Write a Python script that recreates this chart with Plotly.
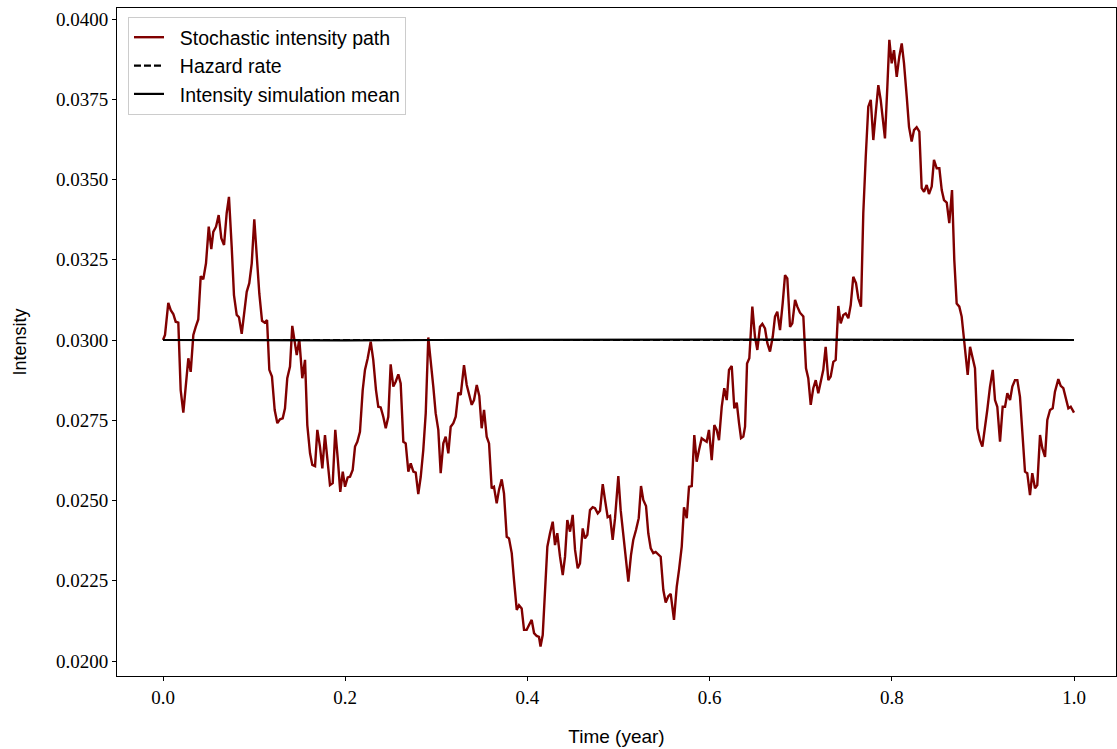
import plotly.graph_objects as go

# Simulated intensity path (time in years, intensity level)
time = [
    0.0000, 0.0022, 0.0058, 0.0085, 0.0113, 0.0139, 0.0168, 0.0194, 0.0223, 0.0252,
    0.0278, 0.0304, 0.0333, 0.0359, 0.0387, 0.0414, 0.0442, 0.0472, 0.0502, 0.0530,
    0.0552, 0.0582, 0.0611, 0.0640, 0.0670, 0.0699, 0.0724, 0.0754, 0.0779, 0.0809,
    0.0834, 0.0864, 0.0889, 0.0919, 0.0947, 0.0974, 0.1002, 0.1029, 0.1057, 0.1087,
    0.1116, 0.1142, 0.1167, 0.1196, 0.1226, 0.1255, 0.1284, 0.1314, 0.1339, 0.1364,
    0.1394, 0.1419, 0.1449, 0.1468, 0.1496, 0.1529, 0.1559, 0.1584, 0.1614, 0.1639,
    0.1669, 0.1694, 0.1723, 0.1749, 0.1778, 0.1804, 0.1833, 0.1863, 0.1891, 0.1918,
    0.1946, 0.1973, 0.1998, 0.2027, 0.2053, 0.2082, 0.2108, 0.2133, 0.2162, 0.2192,
    0.2217, 0.2247, 0.2280, 0.2308, 0.2338, 0.2363, 0.2390, 0.2418, 0.2445, 0.2473,
    0.2499, 0.2528, 0.2554, 0.2583, 0.2609, 0.2638, 0.2664, 0.2693, 0.2719, 0.2748,
    0.2774, 0.2802, 0.2829, 0.2857, 0.2884, 0.2912, 0.2939, 0.2967, 0.2993, 0.3022,
    0.3048, 0.3077, 0.3103, 0.3132, 0.3158, 0.3187, 0.3213, 0.3242, 0.3268, 0.3304,
    0.3334, 0.3359, 0.3389, 0.3414, 0.3444, 0.3472, 0.3498, 0.3524, 0.3553, 0.3579,
    0.3608, 0.3633, 0.3663, 0.3688, 0.3718, 0.3743, 0.3773, 0.3798, 0.3828, 0.3853,
    0.3883, 0.3908, 0.3937, 0.3963, 0.3992, 0.4018, 0.4047, 0.4073, 0.4102, 0.4127,
    0.4144, 0.4168, 0.4193, 0.4219, 0.4248, 0.4278, 0.4303, 0.4328, 0.4358, 0.4388,
    0.4413, 0.4438, 0.4468, 0.4497, 0.4523, 0.4552, 0.4577, 0.4607, 0.4632, 0.4658,
    0.4687, 0.4717, 0.4742, 0.4772, 0.4797, 0.4827, 0.4852, 0.4881, 0.4907, 0.4936,
    0.4962, 0.4998, 0.5024, 0.5053, 0.5082, 0.5108, 0.5137, 0.5162, 0.5192, 0.5222,
    0.5247, 0.5272, 0.5302, 0.5327, 0.5354, 0.5382, 0.5408, 0.5437, 0.5463, 0.5492,
    0.5518, 0.5547, 0.5573, 0.5609, 0.5639, 0.5664, 0.5694, 0.5719, 0.5749, 0.5774,
    0.5804, 0.5832, 0.5858, 0.5884, 0.5913, 0.5942, 0.5968, 0.5993, 0.6023, 0.6052,
    0.6078, 0.6103, 0.6133, 0.6161, 0.6188, 0.6213, 0.6243, 0.6271, 0.6298, 0.6323,
    0.6345, 0.6370, 0.6389, 0.6411, 0.6436, 0.6469, 0.6498, 0.6524, 0.6553, 0.6579,
    0.6608, 0.6634, 0.6663, 0.6693, 0.6718, 0.6743, 0.6773, 0.6802, 0.6828, 0.6853,
    0.6883, 0.6908, 0.6938, 0.6963, 0.6992, 0.7029, 0.7058, 0.7083, 0.7110, 0.7138,
    0.7165, 0.7193, 0.7220, 0.7248, 0.7274, 0.7303, 0.7329, 0.7358, 0.7384, 0.7413,
    0.7439, 0.7468, 0.7494, 0.7523, 0.7549, 0.7577, 0.7607, 0.7632, 0.7662, 0.7687,
    0.7714, 0.7742, 0.7769, 0.7797, 0.7823, 0.7852, 0.7878, 0.7900, 0.7925, 0.7951,
    0.7973, 0.7999, 0.8024, 0.8054, 0.8082, 0.8109, 0.8134, 0.8164, 0.8189, 0.8218,
    0.8244, 0.8273, 0.8302, 0.8328, 0.8354, 0.8383, 0.8408, 0.8438, 0.8463, 0.8493,
    0.8522, 0.8548, 0.8573, 0.8603, 0.8631, 0.8661, 0.8686, 0.8712, 0.8741, 0.8767,
    0.8793, 0.8814, 0.8833, 0.8859, 0.8884, 0.8913, 0.8939, 0.8968, 0.8994, 0.9023,
    0.9048, 0.9078, 0.9108, 0.9133, 0.9158, 0.9188, 0.9217, 0.9243, 0.9268, 0.9298,
    0.9323, 0.9352, 0.9378, 0.9407, 0.9433, 0.9462, 0.9487, 0.9517, 0.9542, 0.9572,
    0.9597, 0.9627, 0.9652, 0.9682, 0.9707, 0.9737, 0.9766, 0.9791, 0.9828, 0.9854,
    0.9883, 0.9909, 0.9938, 0.9964, 1.0000,
]

intensity_path = [
    0.03000, 0.03016, 0.03116, 0.03093, 0.03081, 0.03057, 0.03054, 0.02844, 0.02774, 0.02855,
    0.02943, 0.02901, 0.03016, 0.03041, 0.03064, 0.03199, 0.03189, 0.03239, 0.03353, 0.03283,
    0.03337, 0.03353, 0.03389, 0.03317, 0.03296, 0.03395, 0.03446, 0.03291, 0.03140, 0.03078,
    0.03071, 0.03019, 0.03073, 0.03150, 0.03177, 0.03239, 0.03376, 0.03249, 0.03145, 0.03060,
    0.03054, 0.03062, 0.02907, 0.02886, 0.02782, 0.02741, 0.02753, 0.02756, 0.02787, 0.02881,
    0.02917, 0.03044, 0.02990, 0.02953, 0.03002, 0.02881, 0.02938, 0.02735, 0.02647, 0.02611,
    0.02607, 0.02720, 0.02668, 0.02600, 0.02704, 0.02626, 0.02548, 0.02554, 0.02720, 0.02631,
    0.02527, 0.02590, 0.02543, 0.02572, 0.02574, 0.02595, 0.02668, 0.02683, 0.02714, 0.02844,
    0.02907, 0.02943, 0.02995, 0.02938, 0.02844, 0.02792, 0.02790, 0.02761, 0.02725, 0.02761,
    0.02924, 0.02855, 0.02870, 0.02893, 0.02865, 0.02683, 0.02678, 0.02590, 0.02616, 0.02590,
    0.02587, 0.02520, 0.02574, 0.02657, 0.02772, 0.03008, 0.02938, 0.02855, 0.02772, 0.02720,
    0.02585, 0.02678, 0.02699, 0.02647, 0.02730, 0.02741, 0.02761, 0.02836, 0.02829, 0.02922,
    0.02860, 0.02834, 0.02798, 0.02813, 0.02860, 0.02826, 0.02725, 0.02782, 0.02699, 0.02678,
    0.02538, 0.02543, 0.02491, 0.02533, 0.02566, 0.02522, 0.02387, 0.02382, 0.02336, 0.02252,
    0.02159, 0.02174, 0.02164, 0.02097, 0.02097, 0.02112, 0.02128, 0.02087, 0.02078, 0.02075,
    0.02045, 0.02081, 0.02231, 0.02356, 0.02398, 0.02434, 0.02361, 0.02398, 0.02325, 0.02268,
    0.02325, 0.02439, 0.02403, 0.02455, 0.02346, 0.02289, 0.02304, 0.02413, 0.02382, 0.02393,
    0.02470, 0.02479, 0.02476, 0.02460, 0.02468, 0.02551, 0.02502, 0.02448, 0.02452, 0.02377,
    0.02445, 0.02576, 0.02470, 0.02387, 0.02315, 0.02247, 0.02330, 0.02377, 0.02408, 0.02445,
    0.02545, 0.02502, 0.02483, 0.02398, 0.02351, 0.02336, 0.02340, 0.02333, 0.02325, 0.02221,
    0.02182, 0.02202, 0.02209, 0.02128, 0.02231, 0.02283, 0.02356, 0.02479, 0.02445, 0.02543,
    0.02545, 0.02704, 0.02621, 0.02657, 0.02694, 0.02688, 0.02683, 0.02720, 0.02626, 0.02735,
    0.02720, 0.02688, 0.02792, 0.02850, 0.02813, 0.02907, 0.02919, 0.02787, 0.02805, 0.02741,
    0.02694, 0.02699, 0.02730, 0.02927, 0.02943, 0.03104, 0.03010, 0.02969, 0.03041, 0.03050,
    0.03036, 0.02990, 0.02964, 0.03010, 0.03073, 0.03088, 0.03031, 0.03114, 0.03202, 0.03192,
    0.03041, 0.03052, 0.03125, 0.03104, 0.03085, 0.03073, 0.02912, 0.02881, 0.02798, 0.02850,
    0.02875, 0.02834, 0.02875, 0.02907, 0.02979, 0.02875, 0.02886, 0.02932, 0.02938, 0.03106,
    0.03052, 0.03078, 0.03083, 0.03068, 0.03109, 0.03197, 0.03177, 0.03130, 0.03104, 0.03395,
    0.03571, 0.03727, 0.03748, 0.03623, 0.03706, 0.03794, 0.03748, 0.03685, 0.03628, 0.03789,
    0.03935, 0.03862, 0.03903, 0.03820, 0.03883, 0.03924, 0.03862, 0.03758, 0.03664, 0.03618,
    0.03654, 0.03663, 0.03649, 0.03473, 0.03462, 0.03483, 0.03455, 0.03478, 0.03561, 0.03535,
    0.03535, 0.03467, 0.03436, 0.03428, 0.03364, 0.03467, 0.03249, 0.03114, 0.03104, 0.03073,
    0.03000, 0.02959, 0.02891, 0.02979, 0.02948, 0.02912, 0.02725, 0.02688, 0.02668, 0.02725,
    0.02782, 0.02855, 0.02907, 0.02813, 0.02792, 0.02683, 0.02792, 0.02792, 0.02834, 0.02813,
    0.02855, 0.02875, 0.02875, 0.02823, 0.02699, 0.02590, 0.02585, 0.02517, 0.02585, 0.02538,
    0.02548, 0.02704, 0.02663, 0.02636, 0.02751, 0.02782, 0.02787, 0.02839, 0.02878, 0.02857,
    0.02850, 0.02823, 0.02787, 0.02792, 0.02774,
]

# Constant hazard rate over the horizon
hazard_time = [0.0, 1.0]
hazard_rate = [0.03, 0.03]

# Mean of the simulated intensity paths
mean_time = [0.0, 0.1, 0.2, 0.3, 0.4, 0.5, 0.6, 0.7, 0.8, 0.9, 1.0]
intensity_mean = [0.03000, 0.02999, 0.02999, 0.03000, 0.03001, 0.03002,
                  0.03001, 0.03001, 0.03001, 0.03001, 0.03000]

x_ticks = [0.0, 0.2, 0.4, 0.6, 0.8, 1.0]
y_ticks = [0.0200, 0.0225, 0.0250, 0.0275, 0.0300, 0.0325, 0.0350, 0.0375, 0.0400]

SANS = "Liberation Sans, Arial, sans-serif"
SERIF = "Liberation Serif, Times New Roman, serif"
PAD = "\u00a0\u00a0"  # gap between legend sample line and label

fig = go.Figure()
fig.add_trace(go.Scatter(
    x=time, y=intensity_path, mode="lines", name=PAD + "Stochastic intensity path",
    line=dict(color="#800000", width=2.4),
))
fig.add_trace(go.Scatter(
    x=hazard_time, y=hazard_rate, mode="lines", name=PAD + "Hazard rate",
    line=dict(color="black", width=2.2, dash="7px,3px"),
))
fig.add_trace(go.Scatter(
    x=mean_time, y=intensity_mean, mode="lines", name=PAD + "Intensity simulation mean",
    line=dict(color="black", width=2.2),
))

axis_common = dict(
    showline=True, mirror=True, linecolor="black", linewidth=1,
    ticks="outside", ticklen=4, tickwidth=1, tickcolor="black",
    showgrid=False, zeroline=False,
    tickfont=dict(family=SERIF, size=19, color="black"),
)

fig.update_layout(
    width=1117, height=749,
    margin=dict(l=117, r=1, t=8, b=73),
    paper_bgcolor="white", plot_bgcolor="white",
    showlegend=True,
    legend=dict(
        x=0.011, y=0.9865, xanchor="left", yanchor="top",
        bgcolor="rgba(255,255,255,0.8)", bordercolor="#cccccc", borderwidth=1,
        font=dict(family=SANS, size=19.5, color="black"),
        tracegroupgap=0, itemwidth=30,
    ),
    xaxis=dict(
        range=[-0.0505, 1.0461],
        tickvals=x_ticks, ticktext=[f"{v:.1f}" for v in x_ticks],
        title=dict(text="Time (year)", font=dict(family=SANS, size=19, color="black"), standoff=22),
        **axis_common,
    ),
    yaxis=dict(
        range=[0.019533, 0.040343],
        tickvals=y_ticks, ticktext=[f"{v:.4f}" for v in y_ticks],
        title=dict(text="Intensity", font=dict(family=SANS, size=18, color="black"), standoff=24),
        **axis_common,
    ),
)

fig.write_html("out.html")
